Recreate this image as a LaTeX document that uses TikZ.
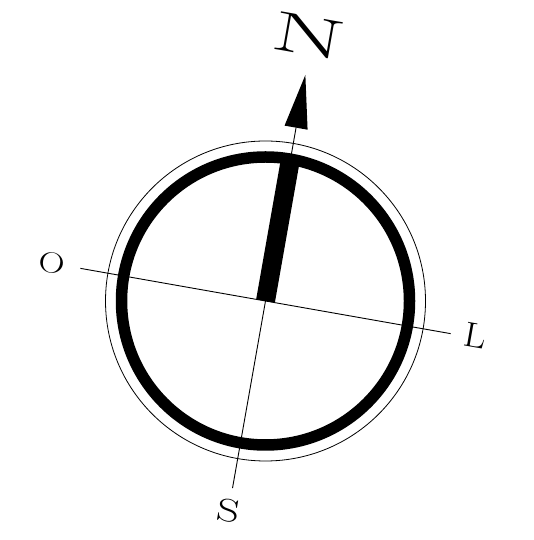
\documentclass[tikz,border=0pt]{standalone}
\usepackage{fontspec}
\newcommand{\biglet}[3]{\scalebox{#2}[1]{\fontsize{#1}{#1}\selectfont #3}}
\begin{document}
\begin{tikzpicture}[x=1pt,y=1pt,
  thinline/.style={line width=0.9pt},
  letter/.style={inner sep=0pt, anchor=center, rotate=-10}]
\useasboundingbox (0,0) rectangle (534,540);
\begin{scope}[shift={(265.5,239)}, rotate=-10]
  \coordinate (c) at (0,0);
  \coordinate (wEnd) at (-188,0);
  \coordinate (eEnd) at (188,0);
  \coordinate (sEnd) at (0,-190);
  \coordinate (nEnd) at (0,176);
  \node[circle, draw, minimum size=320pt, inner sep=0pt, line width=0.8pt] (outer) at (c) {};
  \node[circle, draw, minimum size=288pt, inner sep=0pt, line width=11.5pt] (ring) at (c) {};
  \draw[thinline] (wEnd) -- (eEnd);
  \draw[thinline] (sEnd) -- (nEnd);
  \fill (-9.5,0) rectangle (9.5,144);
  \fill (0,229.5) -- (-11.7,176) -- (11.7,176) -- cycle;
  \node[letter] (N) at (-3,268) {\biglet{56}{1.9}{N}};
  \node[letter] (O) at (-217,0.7) {\biglet{29}{1.25}{O}};
  \node[letter] (L) at (212.4,1.9) {\biglet{35}{1.1}{L}};
  \node[letter] (S) at (0.6,-213) {\biglet{32}{1.4}{S}};
\end{scope}
\end{tikzpicture}
\end{document}
